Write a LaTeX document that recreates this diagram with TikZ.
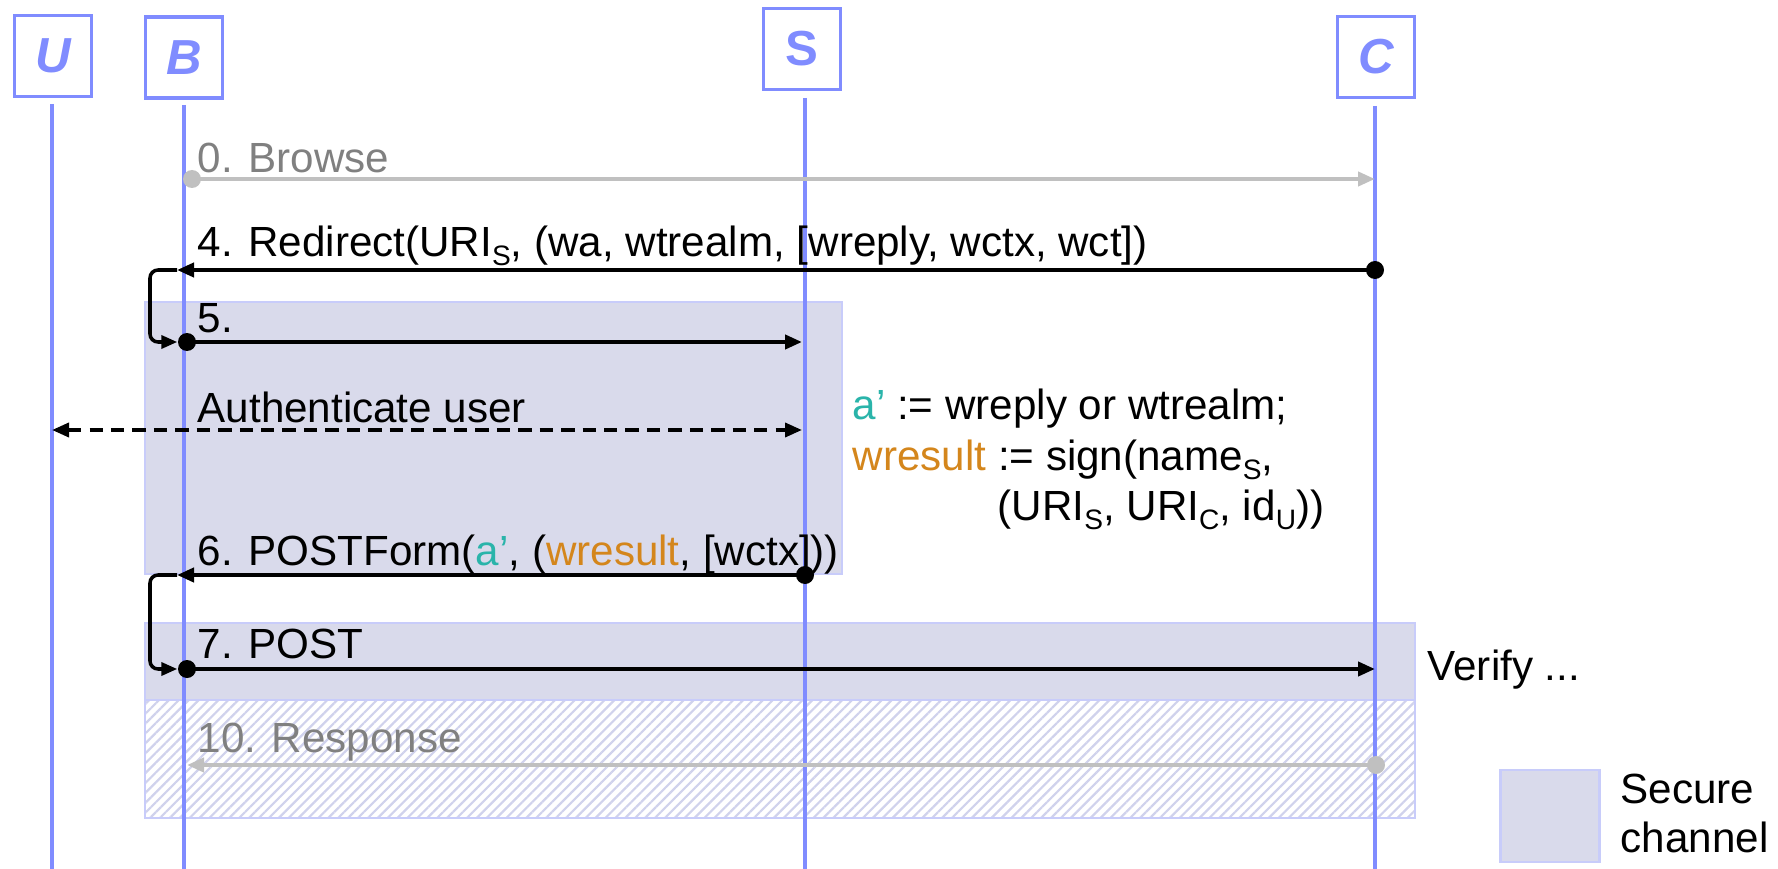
\documentclass[tikz,border=0pt]{standalone}
\usepackage{fontspec}
\setmainfont{Liberation Sans}
\usetikzlibrary{arrows.meta,patterns.meta}
\definecolor{lifeblue}{RGB}{128,140,255}
\definecolor{chanfill}{RGB}{217,218,235}
\definecolor{chanedge}{RGB}{200,204,250}
\definecolor{hatchcol}{RGB}{208,210,236}
\definecolor{msggray}{RGB}{192,192,192}
\definecolor{txtgray}{RGB}{128,128,128}
\definecolor{aprime}{RGB}{42,180,170}
\definecolor{wres}{RGB}{212,134,28}
\newcommand\lowsub[1]{\raisebox{-0.22em}{\fontsize{8}{9}\selectfont #1}}
\tikzset{
	actor/.style={draw=lifeblue, line width=1pt, text=lifeblue, minimum width=0.77cm, minimum height=0.81cm, inner sep=0pt, font=\fontsize{14}{16}\selectfont\bfseries},
	lifeline/.style={lifeblue, line width=0.9pt},
	msg/.style={black, line width=1.15pt, -{Triangle[length=1.7mm,width=1.4mm]}},
	gmsg/.style={msg, msggray},
	dmsg/.style={black, line width=1.05pt, dash pattern=on 3.8pt off 2.3pt, {Triangle[length=1.7mm,width=1.4mm]}-{Triangle[length=1.7mm,width=1.4mm]}},
	loopback/.style={black, line width=1pt, rounded corners=0.08cm, -{Triangle[length=1.6mm,width=1.3mm]}},
	dot/.style={circle, fill=black, inner sep=0pt, minimum size=0.18cm},
	gdot/.style={dot, fill=msggray},
	lbl/.style={anchor=base west, inner sep=0pt, font=\fontsize{12}{14}\selectfont},
	glbl/.style={lbl, text=txtgray},
	secure/.style={fill=chanfill, draw=chanedge, line width=0.6pt},
	insecure/.style={pattern={Lines[angle=45, distance=0.07cm, line width=0.022cm]}, pattern color=hatchcol, draw=chanedge, line width=0.6pt},
}
\begin{document}
\begin{tikzpicture}
	\useasboundingbox (0, 0) rectangle (17.78, -8.69);
	\fill [secure] (1.45, -3.02) rectangle (8.42, -5.74);
	\fill [secure] (1.45, -6.23) rectangle (14.15, -7.00);
	\fill [insecure] (1.45, -7.00) rectangle (14.15, -8.18);
	\draw [secure, fill=none] (1.45, -3.02) rectangle (8.42, -5.74);
	\draw [secure, fill=none] (1.45, -6.23) rectangle (14.15, -7.00);
	\draw [secure, fill=none] (1.45, -7.00) rectangle (14.15, -8.18);

	\node [actor] at (0.53, -0.56) (U) {\itshape U};
	\node [actor] at (1.84, -0.575) (B) {\itshape B};
	\node [actor] at (8.02, -0.49) (S) {S};
	\node [actor] at (13.76, -0.57) (C) {\itshape C};
	\draw [lifeline] (0.52, -1.04) -- (0.52, -8.69);
	\draw [lifeline] (1.84, -1.05) -- (1.84, -8.69);
	\draw [lifeline] (8.05, -0.98) -- (8.05, -8.69);
	\draw [lifeline] (13.75, -1.06) -- (13.75, -8.69);

	\node [gdot] at (1.92, -1.79) (B0) {};
	\coordinate (C0) at (13.75, -1.79);
	\draw [gmsg] (B0.center) -- (C0);
	\node [glbl] at (1.97, -1.72) (L0) {0. Browse};

	\node [dot] at (13.75, -2.70) (C4) {};
	\coordinate (B4) at (1.77, -2.70);
	\draw [msg] (C4.center) -- (B4);
	\node [lbl] at (1.97, -2.56) (L4) {4. Redirect(URI\lowsub{S}, (wa, wtrealm, [wreply, wctx, wct])};

	\node [dot] at (1.87, -3.42) (B5) {};
	\coordinate (S5) at (8.02, -3.42);
	\draw [msg] (B5.center) -- (S5);
	\node [lbl] at (1.97, -3.32) (L5) {5.};
	\draw [loopback] (B4) -- (1.50, -2.70) |- (B5.west);

	\coordinate (Ua) at (0.52, -4.30);
	\coordinate (Sa) at (8.02, -4.30);
	\draw [dmsg] (Ua) -- (Sa);
	\node [lbl] at (1.97, -4.22) (La) {Authenticate user};

	\node [lbl] at (8.52, -4.20) (K1) {\textcolor{aprime}{a’} := wreply or wtrealm;};
	\node [lbl] at (8.52, -4.70) (K2) {\textcolor{wres}{wresult} := sign(name\lowsub{S},};
	\node [lbl] at (9.97, -5.20) (K3) {(URI\lowsub{S}, URI\lowsub{C}, id\lowsub{U}))};

	\node [dot] at (8.05, -5.75) (S6) {};
	\coordinate (B6) at (1.77, -5.75);
	\draw [msg] (S6.center) -- (B6);
	\node [lbl] at (1.97, -5.65) (L6) {6. POSTForm(\textcolor{aprime}{a’}, (\textcolor{wres}{wresult}, [wctx]))};

	\node [dot] at (1.87, -6.69) (B7) {};
	\coordinate (C7) at (13.75, -6.69);
	\draw [msg] (B7.center) -- (C7);
	\node [lbl] at (1.97, -6.58) (L7) {7. POST};
	\draw [loopback] (B6) -- (1.50, -5.75) |- (B7.west);
	\node [lbl] at (14.27, -6.80) (V) {Verify ...};

	\node [gdot] at (13.76, -7.65) (C10) {};
	\coordinate (B10) at (1.87, -7.65);
	\draw [gmsg] (C10.center) -- (B10);
	\node [glbl] at (1.97, -7.52) (L10) {10. Response};

	\node [secure, draw, minimum width=0.99cm, minimum height=0.92cm, inner sep=0pt] at (15.50, -8.16) (key) {};
	\node [lbl] at (16.20, -8.03) (key1) {Secure};
	\node [lbl] at (16.20, -8.52) (key2) {channel};
\end{tikzpicture}
\end{document}
